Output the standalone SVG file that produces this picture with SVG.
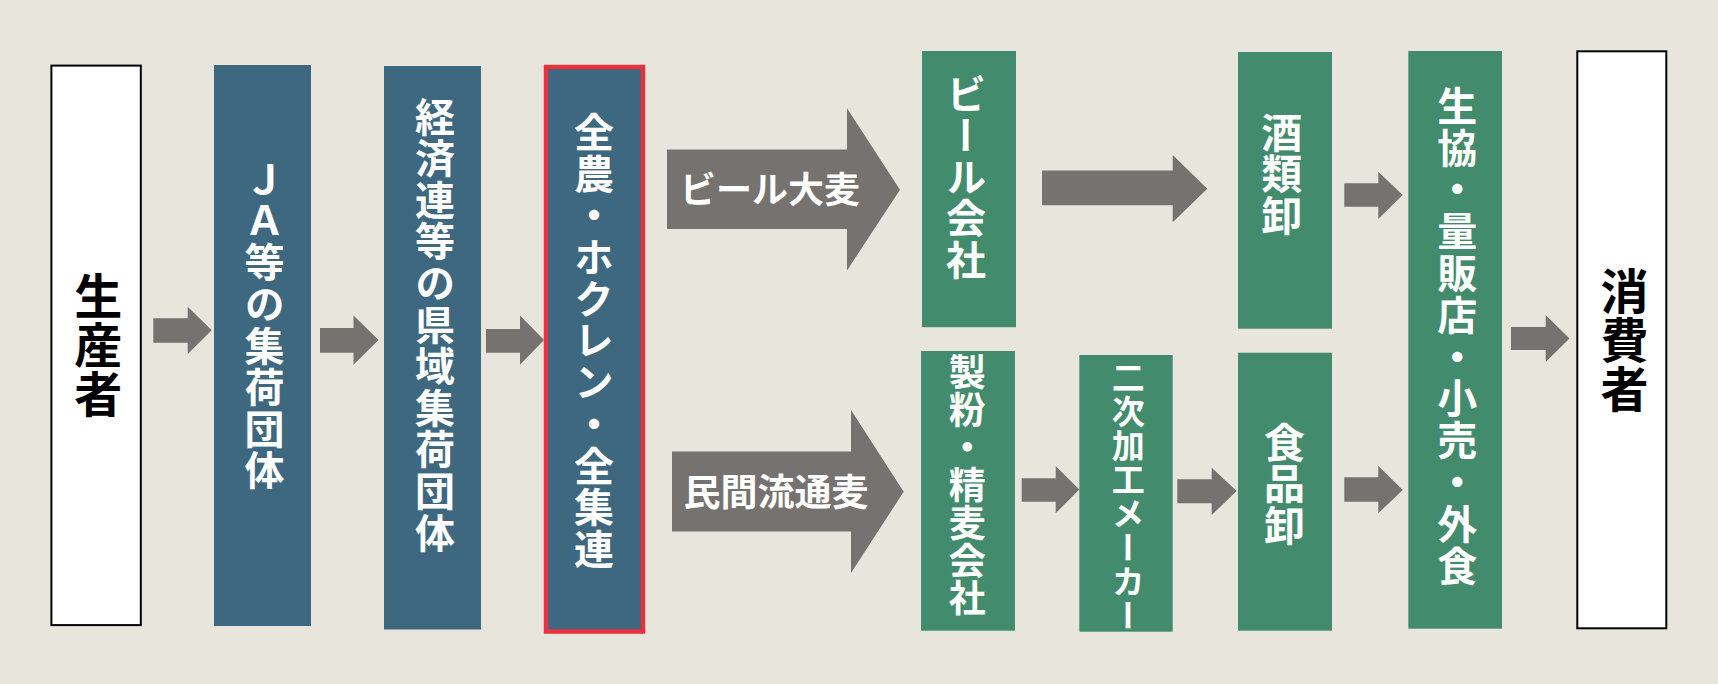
<svg xmlns="http://www.w3.org/2000/svg" width="1718" height="684" viewBox="0 0 1718 684">
<style>
.bg{fill:#e8e6dc}
.white{fill:#ffffff;stroke:#000000;stroke-width:2}
.blue{fill:#3d6880}
.green{fill:#428c6d}
.arrow{fill:#767270}
.vt{font-family:"Noto Sans CJK JP","Noto Sans",sans-serif;font-weight:bold;writing-mode:vertical-rl;text-anchor:start}
.w{fill:#ffffff}
.k{fill:#000000}
.ht{font-family:"Noto Sans CJK JP","Noto Sans",sans-serif;font-weight:bold;fill:#ffffff}
</style>
<rect class="bg" x="0" y="0" width="1718" height="684"/>
<g id="connectors">
<polygon class="arrow" points="153.3,318.3 187.7,318.3 187.7,306.7 211.7,330.3 187.7,354 187.7,342.7 153.3,342.7"/>
<polygon class="arrow" points="320,328 353.5,328 353.5,315.6 378.6,340 353.5,364.7 353.5,352.7 320,352.7"/>
<polygon class="arrow" points="486,329 520,329 520,315.6 544,340 520,364.7 520,352.7 486,352.7"/>
<polygon class="arrow" points="667,149.6 847,149.6 847,108.2 900,189.8 847,270.5 847,229 667,229"/>
<polygon class="arrow" points="672,451.6 851,451.6 851,410 903.7,491.7 851,573 851,531.4 672,531.4"/>
<polygon class="arrow" points="1042,170.5 1172.7,170.5 1172.7,155 1207.3,188.7 1172.7,222.3 1172.7,205.3 1042,205.3"/>
<polygon class="arrow" points="1021.7,478.3 1055.7,478.3 1055.7,466 1079.3,489.5 1055.7,513.3 1055.7,501.7 1021.7,501.7"/>
<polygon class="arrow" points="1177.3,479.3 1211.7,479.3 1211.7,467.7 1236.7,491 1211.7,515 1211.7,503.3 1177.3,503.3"/>
<polygon class="arrow" points="1344.3,183.3 1378.3,183.3 1378.3,171.7 1402.7,195 1378.3,219 1378.3,206.7 1344.3,206.7"/>
<polygon class="arrow" points="1344.3,477.3 1378.3,477.3 1378.3,465.7 1402.7,490 1378.3,513.3 1378.3,501.7 1344.3,501.7"/>
<polygon class="arrow" points="1511,327 1545.7,327 1545.7,315 1569.5,338.6 1545.7,362 1545.7,350 1511,350"/>
<text class="ht" x="680" y="202.5" font-size="36">ビール大麦</text>
<text class="ht" x="683.5" y="506" font-size="37">民間流通麦</text>
</g>
<g id="producer">
<rect class="white" x="51.4" y="65.6" width="89.4" height="559.5"/>
<text class="vt k" x="98.3" y="272" font-size="48" letter-spacing="1">生産者</text>
</g>
<g id="ja">
<rect class="blue" x="214" y="65" width="97" height="561"/>
<text class="vt w" x="264.5" y="159" font-size="40" letter-spacing="1.6">ＪＡ等の集荷団体</text>
</g>
<g id="keizairen">
<rect class="blue" x="384" y="66" width="97" height="563.5"/>
<text class="vt w" x="435" y="96.5" font-size="40" letter-spacing="1.6">経済連等の県域集荷団体</text>
</g>
<g id="zennoh">
<rect class="blue" x="546" y="67" width="97" height="564.5" stroke="#e8303f" stroke-width="4.5"/>
<text class="vt w" x="594" y="111.8" font-size="40" letter-spacing="1.7">全農・ホクレン・全集連</text>
</g>
<g id="beer-company">
<rect class="green" x="922" y="51" width="94" height="276.2"/>
<text class="vt w" x="966" y="73.8" font-size="40" letter-spacing="1.4">ビール会社</text>
</g>
<g id="flour-mill">
<rect class="green" x="921" y="351" width="94" height="279.7"/>
<text class="vt w" x="967.2" y="353.5" font-size="37" letter-spacing="0.7">製粉・精麦会社</text>
</g>
<g id="secondary-processor">
<rect class="green" x="1079.3" y="355" width="93.4" height="276.7"/>
<text class="vt w" x="1128.3" y="360.8" font-size="33" letter-spacing="1">二次加工メーカー</text>
</g>
<g id="liquor-wholesale">
<rect class="green" x="1238" y="52" width="94" height="276.7"/>
<text class="vt w" x="1281.7" y="112" font-size="41" letter-spacing="0.4">酒類卸</text>
</g>
<g id="food-wholesale">
<rect class="green" x="1238" y="352.7" width="94" height="278"/>
<text class="vt w" x="1284.5" y="422" font-size="41" letter-spacing="0.4">食品卸</text>
</g>
<g id="retail">
<rect class="green" x="1408.3" y="51" width="93.7" height="577.7"/>
<text class="vt w" x="1457.3" y="85.6" font-size="40" letter-spacing="1.8">生協・量販店・小売・外食</text>
</g>
<g id="consumer">
<rect class="white" x="1577.3" y="51.3" width="89" height="577"/>
<text class="vt k" x="1624.5" y="266.5" font-size="48" letter-spacing="1">消費者</text>
</g>
</svg>
